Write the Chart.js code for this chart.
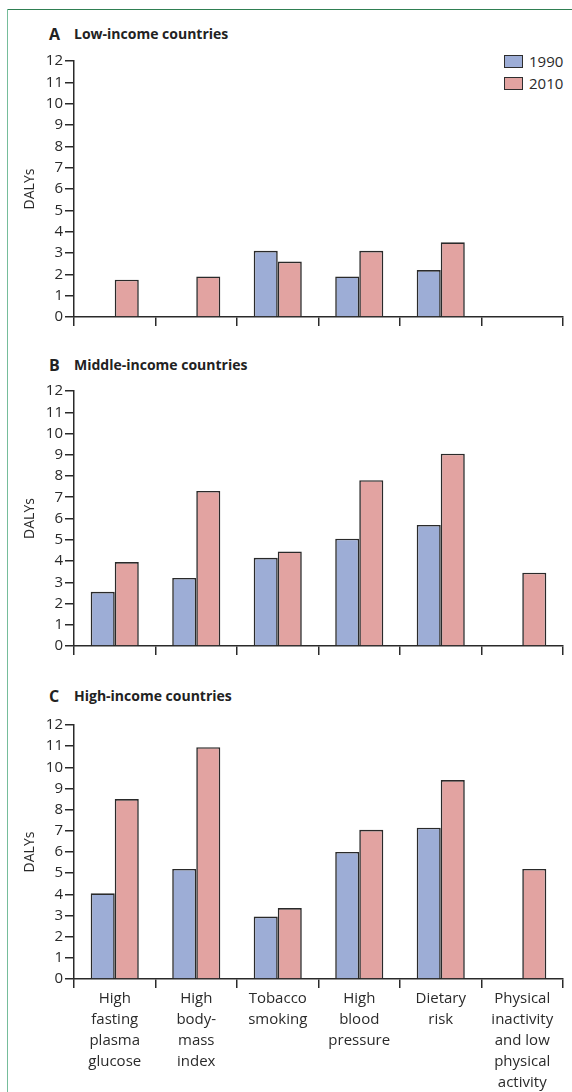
<!DOCTYPE html>
<html>
<head>
<meta charset="utf-8">
<script src="https://cdn.jsdelivr.net/npm/chart.js@4.4.1/dist/chart.umd.min.js"></script>
<style>
  html, body { margin: 0; padding: 0; background: #fff; }
  body { width: 572px; height: 1092px; position: relative; overflow: hidden; font-family: 'Open Sans', sans-serif; color: #222; }
  .frame-top { position: absolute; left: 8px; top: 9px; width: 564px; height: 0; border-top: 1.5px solid #2f7f52; }
  .frame-left { position: absolute; left: 7px; top: 9px; width: 0; height: 1083px; border-left: 1.5px solid #76bd9b; }
  .title { position: absolute; white-space: nowrap; font-weight: 700; line-height: 20px; color: #222; }
  .title .letter { position: absolute; left: 0; font-size: 16px; }
  .title .text { position: absolute; left: 25px; font-size: 14px; letter-spacing: 0px; }
  canvas { position: absolute; left: 0; }
  .legend { position: absolute; left: 504px; top: 50px; font-size: 15px; color: #2a2a2a; }
  .legend div { position: relative; height: 22px; line-height: 22px; padding-left: 25px; }
  .legend span.sw { position: absolute; left: 0; top: 5px; width: 17px; height: 11px; border: 1.4px solid #2e2e2e; }
</style>
</head>
<body>
<div class="frame-top"></div>
<div class="frame-left"></div>

<div class="title" style="left:49px; top:24px;"><span class="letter">A</span><span class="text">Low-income countries</span></div>
<div class="title" style="left:49px; top:355px;"><span class="letter">B</span><span class="text">Middle-income countries</span></div>
<div class="title" style="left:49px; top:686px;"><span class="letter">C</span><span class="text">High-income countries</span></div>

<div class="legend" id="legend"></div>

<canvas id="chartA"></canvas>
<canvas id="chartB"></canvas>
<canvas id="chartC"></canvas>

<script>
// ---- data ----
const categories = [
  ["High", "fasting", "plasma", "glucose"],
  ["High", "body-", "mass", "index"],
  ["Tobacco", "smoking"],
  ["High", "blood", "pressure"],
  ["Dietary", "risk"],
  ["Physical", "inactivity", "and low", "physical", "activity"]
];
const seriesNames = ["1990", "2010"];
const yAxisTitle = "DALYs";
const yMin = 0, yMax = 12, yStep = 1;

const lowIncome1990 = [null, null, 3.1, 1.9, 2.2, null];
const lowIncome2010 = [1.75, 1.9, 2.6, 3.1, 3.5, null];

const middleIncome1990 = [2.55, 3.2, 4.15, 5.05, 5.7, null];
const middleIncome2010 = [3.95, 7.3, 4.45, 7.8, 9.05, 3.45];

const highIncome1990 = [4.05, 5.2, 2.95, 6.0, 7.15, null];
const highIncome2010 = [8.5, 10.95, 3.35, 7.05, 9.4, 5.2];

// ---- styles ----
const colors = ["#9dadd6", "#e2a3a1"];
const inkColor = "#2a2a2a";
const textColor = "#2a2a2a";

Chart.defaults.font.family = "'Open Sans', sans-serif";
Chart.defaults.color = textColor;

// legend
const legendEl = document.getElementById('legend');
seriesNames.forEach((name, i) => {
  const row = document.createElement('div');
  const sw = document.createElement('span');
  sw.className = 'sw';
  sw.style.background = colors[i];
  row.appendChild(sw);
  row.appendChild(document.createTextNode(name));
  legendEl.appendChild(row);
});

function makeChart(id, top, height, d1990, d2010, showLabels, xHeight) {
  const canvas = document.getElementById(id);
  canvas.style.top = top + 'px';
  canvas.style.width = '572px';
  canvas.style.height = height + 'px';
  canvas.width = 572;
  canvas.height = height;
  return new Chart(canvas, {
    type: 'bar',
    data: {
      labels: categories,
      datasets: [d1990, d2010].map((d, i) => ({
        label: seriesNames[i],
        data: d,
        backgroundColor: colors[i],
        borderColor: inkColor,
        borderWidth: 1.6,
        categoryPercentage: 0.59,
        barPercentage: 1.0
      }))
    },
    options: {
      responsive: false,
      maintainAspectRatio: false,
      animation: false,
      layout: { padding: { left: 22, right: 9, top: 8, bottom: 0 } },
      plugins: { legend: { display: false }, tooltip: { enabled: false } },
      scales: {
        x: {
          grid: { offset: true, drawOnChartArea: false, drawTicks: true, tickLength: 9, color: inkColor, lineWidth: 1.5 },
          border: { display: true, color: inkColor, width: 1.5 },
          ticks: { display: showLabels, maxRotation: 0, minRotation: 0, autoSkip: false, padding: 0,
                   font: { size: 15, lineHeight: 1.4 }, color: textColor },
          afterFit: (s) => { s.height = xHeight; }
        },
        y: {
          min: yMin, max: yMax,
          grid: { drawOnChartArea: false, drawTicks: true, tickLength: 9, color: inkColor, lineWidth: 1.5 },
          border: { display: true, color: inkColor, width: 1.5 },
          ticks: { stepSize: yStep, padding: 2, font: { size: 15 }, color: textColor },
          title: { display: true, text: yAxisTitle, font: { size: 14 }, color: textColor, padding: 0 },
          afterFit: (s) => { s.width = 52; }
        }
      }
    }
  });
}

makeChart('chartA', 50, 279, lowIncome1990, lowIncome2010, false, 12);
makeChart('chartB', 380, 278, middleIncome1990, middleIncome2010, false, 12);
makeChart('chartC', 714, 378, highIncome1990, highIncome2010, true, 113);
</script>
</body>
</html>
